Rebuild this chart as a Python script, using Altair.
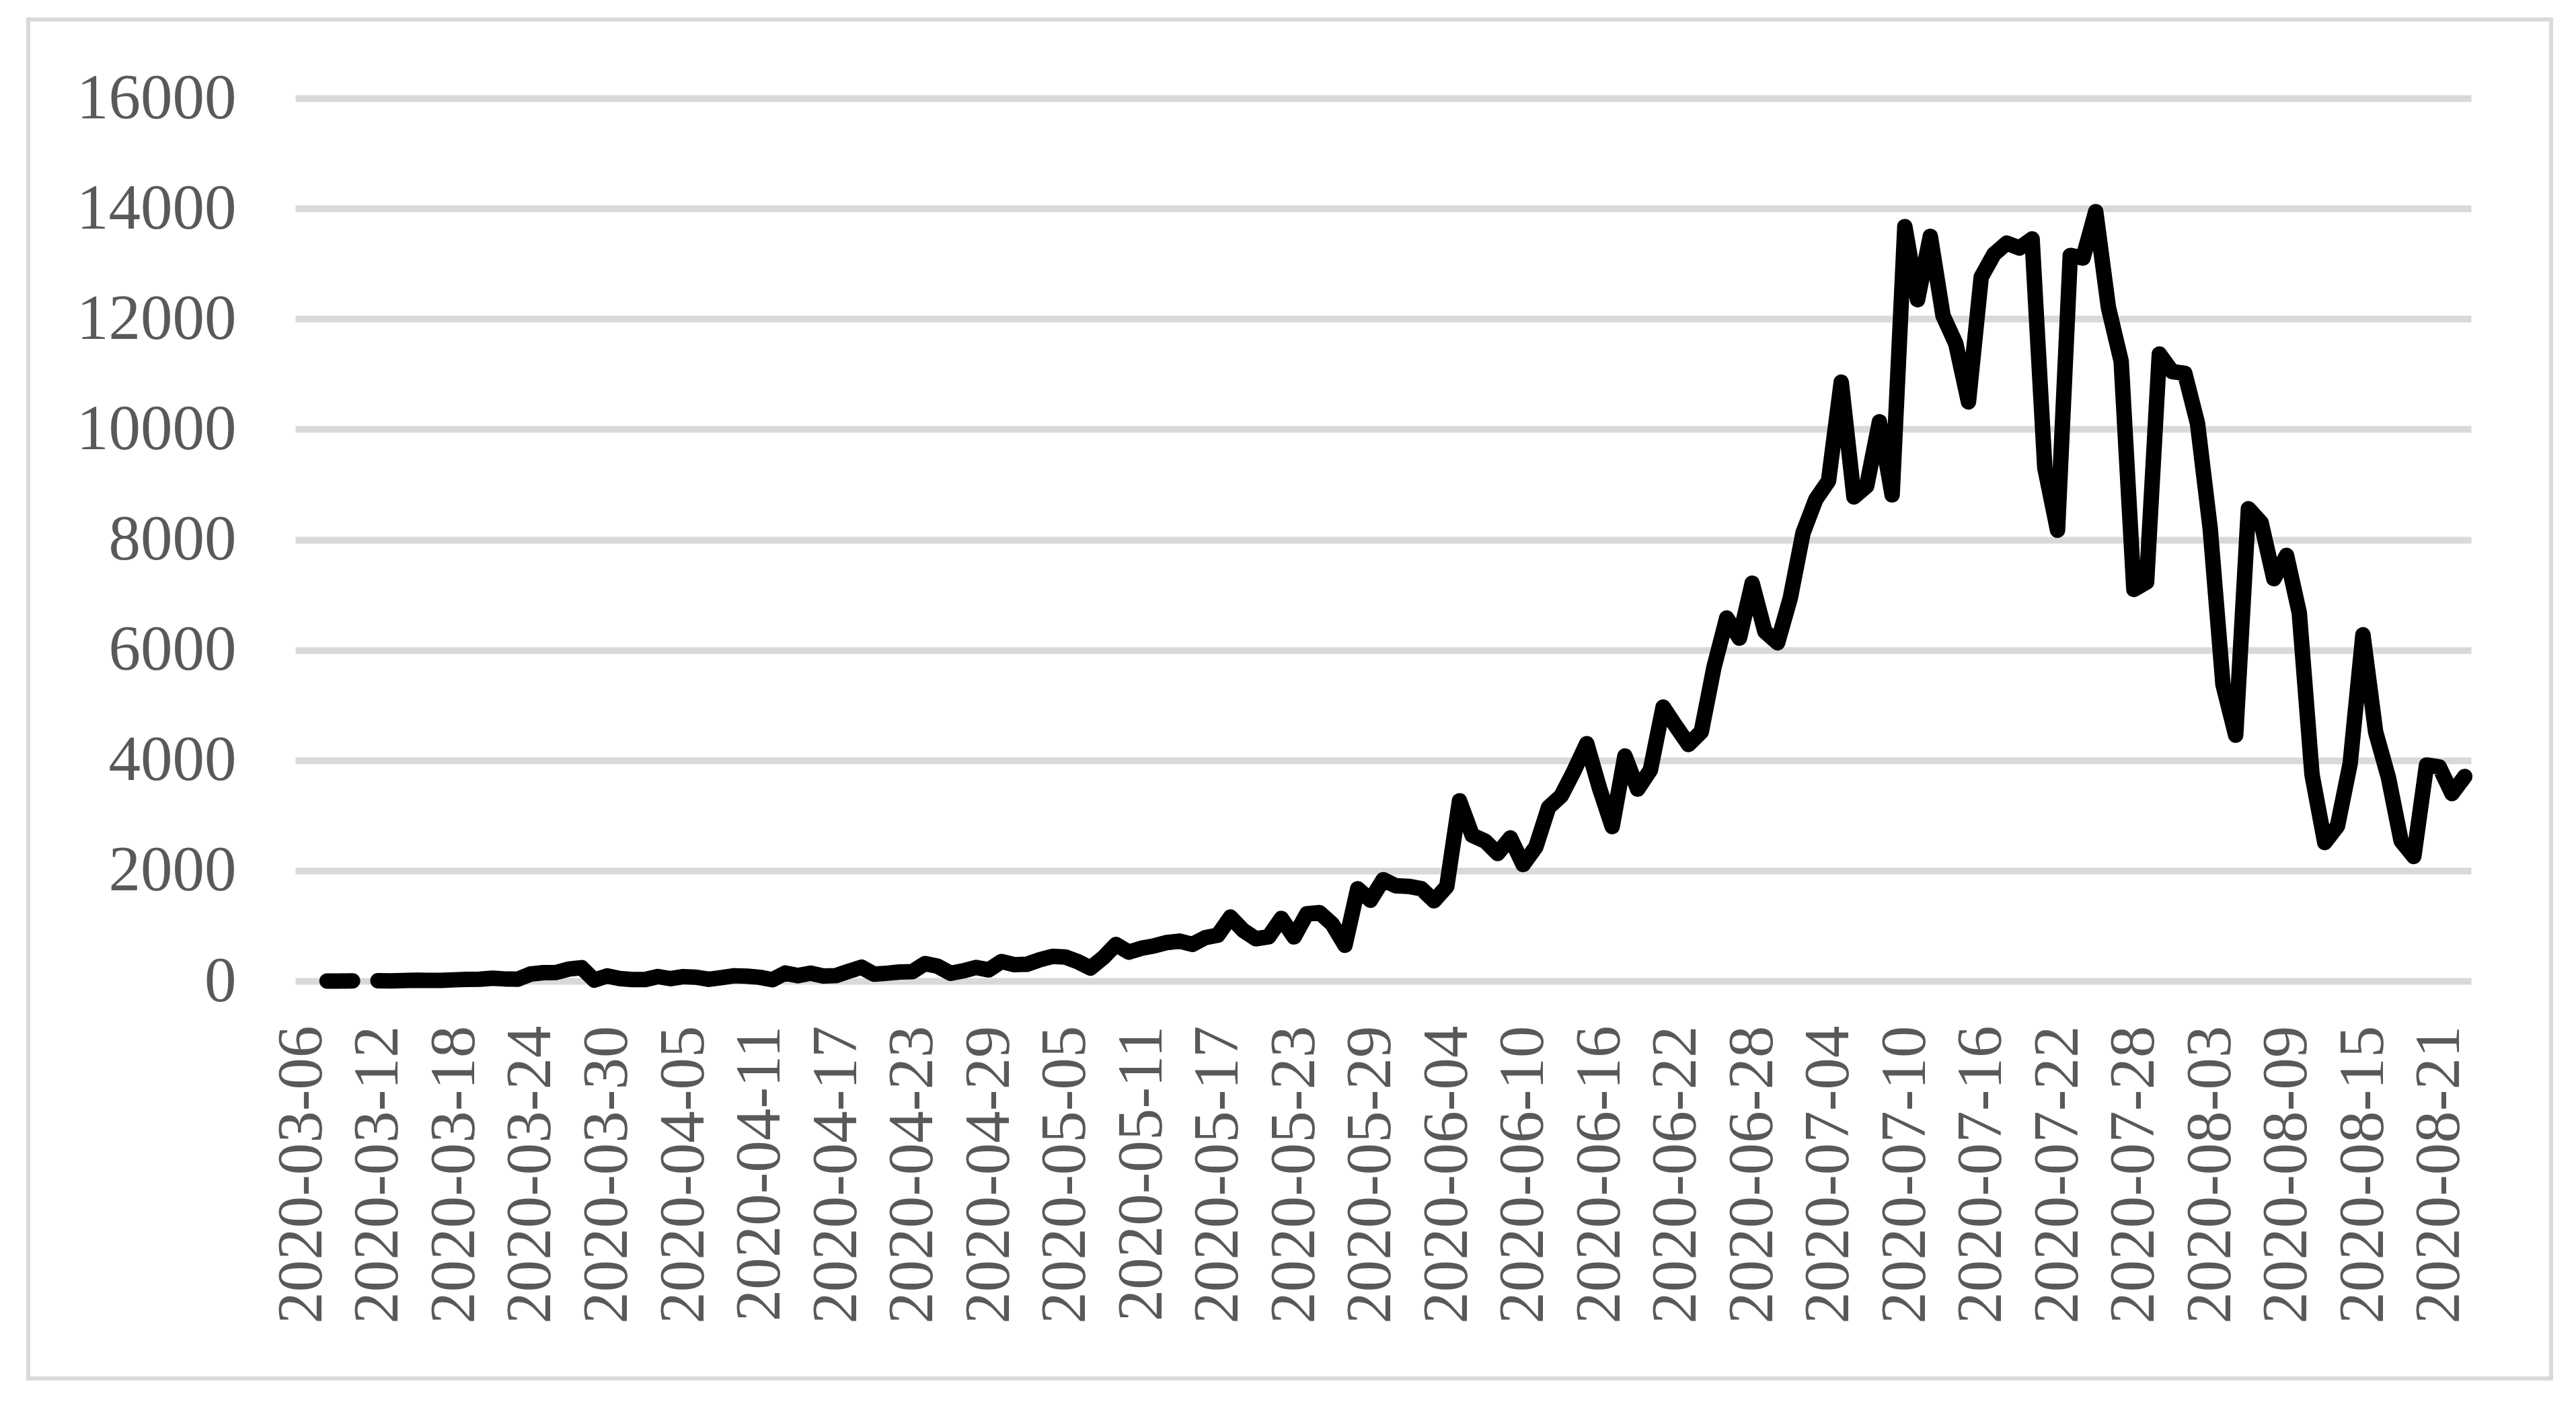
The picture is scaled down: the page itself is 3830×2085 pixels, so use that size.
import altair as alt
import pandas as pd

# ---------------- data ----------------
start_date = "2020-03-06"
daily_cases = [
    None, None, 1, 1, 4, None, 6, 3, 8, 14,
    13, 11, 23, 31, 34, 52, 38, 34, 128, 152,
    155, 218, 243, 17, 93, 46, 27, 27, 82, 43,
    80, 70, 31, 63, 96, 89, 69, 25, 145, 99,
    143, 91, 99, 178, 251, 124, 142, 165, 170, 318,
    267, 141, 185, 247, 203, 354, 297, 304, 385, 447,
    437, 352, 236, 424, 663, 525, 595, 637, 698, 724,
    665, 785, 831, 1160, 918, 767, 803, 1134, 800, 1218,
    1240, 1032, 649, 1673, 1466, 1837, 1727, 1716, 1674, 1455,
    1713, 3267, 2642, 2539, 2312, 2594, 2112, 2430, 3147, 3359,
    3809, 4302, 3495, 2801, 4078, 3478, 3825, 4966, 4621, 4288,
    4518, 5688, 6579, 6215, 7210, 6334, 6130, 6945, 8124, 8728,
    9063, 10853, 8773, 8971, 10134, 8810, 13674, 12348, 13497, 12058,
    11554, 10496, 12757, 13172, 13373, 13285, 13449, 9300, 8170, 13150,
    13104, 13944, 12204, 11233, 7096, 7232, 11362, 11046, 11014, 10107,
    8195, 5377, 4456, 8559, 8307, 7292, 7712, 6671, 3739, 2511,
    2810, 3946, 6275, 4513, 3692, 2541, 2258, 3916, 3880, 3398,
    3707,
]
tick_labels = [
    "2020-03-06", "2020-03-12", "2020-03-18", "2020-03-24", "2020-03-30",
    "2020-04-05", "2020-04-11", "2020-04-17", "2020-04-23", "2020-04-29",
    "2020-05-05", "2020-05-11", "2020-05-17", "2020-05-23", "2020-05-29",
    "2020-06-04", "2020-06-10", "2020-06-16", "2020-06-22", "2020-06-28",
    "2020-07-04", "2020-07-10", "2020-07-16", "2020-07-22", "2020-07-28",
    "2020-08-03", "2020-08-09", "2020-08-15", "2020-08-21",
]
y_ticks = [0, 2000, 4000, 6000, 8000, 10000, 12000, 14000, 16000]

dates = pd.date_range(start_date, periods=len(daily_cases), freq="D").strftime("%Y-%m-%d").tolist()

# blank cells break the line (as in the original spreadsheet chart)
seg_ids = []
seg = 0
for v in daily_cases:
    if v is None:
        seg += 1
    seg_ids.append(seg)

df = pd.DataFrame({"date": dates, "cases": daily_cases, "seg": seg_ids}).dropna()

# ---------------- chart ----------------
W, H = 3235, 1313
FONT = "Liberation Serif"
LABEL_COLOR = "#595959"
GRID = "#d9d9d9"

x_enc = alt.X(
    "date:O",
    scale=alt.Scale(domain=dates, padding=0.5),
    axis=alt.Axis(
        values=tick_labels,
        labelAngle=270,
        labelFont=FONT,
        labelFontSize=95,
        labelColor=LABEL_COLOR,
        labelPadding=66,
        labelLimit=2000,
        labelOverlap=False,
        ticks=False,
        domain=False,
        grid=False,
        title=None,
    ),
)
y_enc = alt.Y(
    "cases:Q",
    scale=alt.Scale(domain=[0, 16000], nice=False),
    axis=alt.Axis(
        values=y_ticks,
        format="d",
        labelFont=FONT,
        labelFontSize=95,
        labelColor=LABEL_COLOR,
        labelPadding=88,
        labelLimit=2000,
        ticks=False,
        domain=False,
        grid=True,
        gridColor=GRID,
        gridWidth=10,
        title=None,
    ),
)

line = alt.Chart(df).mark_line(
    color="black", strokeWidth=23, strokeCap="round", strokeJoin="round"
).encode(x=x_enc, y=y_enc, detail="seg:N")

frame = alt.Chart(pd.DataFrame({"k": [0]})).mark_rect(
    fill="transparent", stroke=GRID, strokeWidth=6
).encode(
    x=alt.value(-397), x2=alt.value(3354), y=alt.value(-117), y2=alt.value(1904)
)

chart = alt.layer(frame, line).properties(
    width=W,
    height=H,
    autosize=alt.AutoSizeParams(type="none"),
    padding={"left": 431, "top": 138, "right": 126, "bottom": 597},
    background="white",
).configure_view(stroke=None)

chart.save("out.html", embed_options={"renderer": "svg", "actions": False})
